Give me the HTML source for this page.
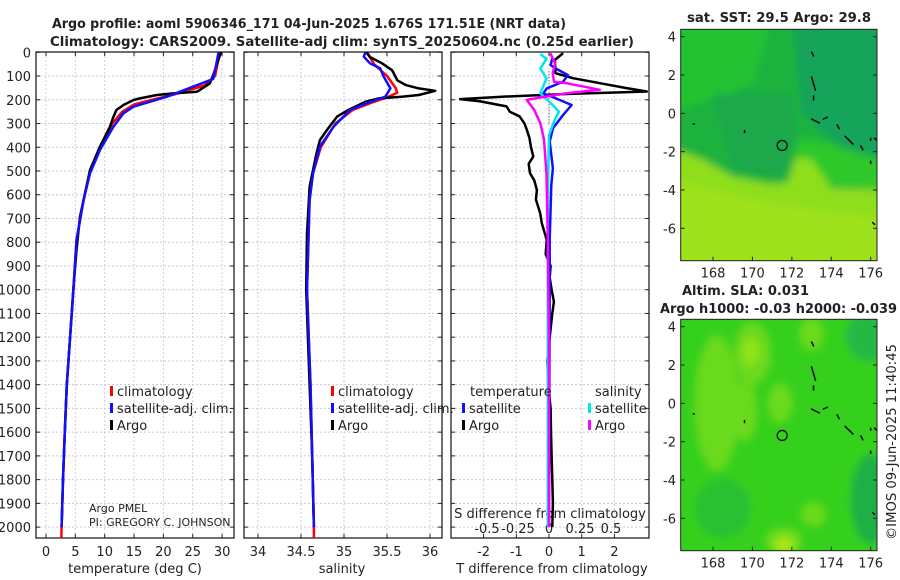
<!DOCTYPE html>
<html><head><meta charset="utf-8"><style>
html,body{margin:0;padding:0;background:#fff;width:900px;height:580px;overflow:hidden}
svg text{font-family:"DejaVu Sans","Liberation Sans",sans-serif;fill:#222}
</style></head><body>
<svg id="fig" width="900" height="580" viewBox="0 0 900 580" xmlns="http://www.w3.org/2000/svg">
<text x="52" y="28" font-size="13" font-weight="bold" textLength="514" lengthAdjust="spacingAndGlyphs">Argo profile: aoml 5906346_171 04-Jun-2025 1.676S 171.51E (NRT data)</text>
<text x="50" y="46" font-size="13" font-weight="bold" textLength="584" lengthAdjust="spacingAndGlyphs">Climatology: CARS2009. Satellite-adj clim: synTS_20250604.nc (0.25d earlier)</text>
<text x="687" y="22" font-size="13" font-weight="bold" textLength="184" lengthAdjust="spacingAndGlyphs">sat. SST: 29.5 Argo: 29.8</text>
<text x="682" y="295" font-size="13" font-weight="bold" textLength="127" lengthAdjust="spacingAndGlyphs">Altim. SLA: 0.031</text>
<text x="660" y="313" font-size="13" font-weight="bold" textLength="237" lengthAdjust="spacingAndGlyphs">Argo h1000: -0.03 h2000: -0.039</text>
<text transform="translate(896,540) rotate(-90)" font-size="13" textLength="196" lengthAdjust="spacingAndGlyphs">©IMOS 09-Jun-2025 11:40:45</text>
<g id="g"></g>
</svg>
<script>
// ---- data ----
const depthLevels = [0,100,200,300,400,500,600,700,800,900,1000,1100,1200,1300,1400,1500,1600,1700,1800,1900,2000];
const tempTicks = [0,5,10,15,20,25,30];
const salTicks = [34,34.5,35,35.5,36];
const tdiffTicks = [-2,-1,0,1,2];
const sdiffTicks = [-0.5,-0.25,0,0.25,0.5];
const sdiffTickLabels = ['-0.5','-0.25','0','0.25','0.5'];

const tArgoDepth = [0,95,131,159,166,173,180,194,201,222,243,271,313,397,496,622,692,833,1000,1200,1400,1600,1800,2000];
const tArgoVal   = [29.8,28.5,27.9,26.2,25.7,21.7,18.9,16,14.9,13.2,12,11.5,10.9,9.2,7.5,6.4,5.8,5.2,4.65,4.1,3.55,3.2,2.9,2.65];
const tClimDepth = [0,100,140,180,200,220,250,300,400,500,620,790,1000,1200,1400,1600,1800,2000,2050];
const tClimVal   = [29.6,28.8,27,21.5,18,15,13,11.3,9.2,7.5,6.4,5.2,4.66,4.1,3.55,3.2,2.9,2.65,2.6];
const tSatDepth  = [0,101,112,187,229,257,313,411,510,622,791,1000,1200,1400,1600,1800,2000];
const tSatVal    = [29.4,28.6,28.5,20.6,14.9,13.2,11.5,9.2,7.5,6.4,5.2,4.66,4.1,3.55,3.2,2.9,2.65];

const sArgoDepth = [0,20,46,76,118,138,152,162,180,187,194,208,243,271,328,370,426,496,566,763,1000,1400,1700,2000];
const sArgoVal   = [35.26,35.3,35.44,35.56,35.62,35.72,35.87,36.06,35.87,35.67,35.40,35.25,35.05,34.92,34.8,34.72,34.68,34.64,34.6,34.57,34.56,34.6,34.63,34.65];
const sClimDepth = [0,50,100,150,170,190,215,243,300,400,510,622,1000,1400,1700,2000,2050];
const sClimVal   = [35.27,35.35,35.5,35.6,35.62,35.5,35.3,35.1,34.9,34.73,34.64,34.6,34.57,34.61,34.63,34.65,34.65];
const sSatDepth  = [0,18,46,67,102,152,187,215,243,313,397,510,622,1000,1400,1700,2000];
const sSatVal    = [35.25,35.23,35.3,35.42,35.46,35.54,35.48,35.26,35.07,34.88,34.72,34.64,34.6,34.57,34.61,34.63,34.65];

const dTArgoDepth = [4,32,88,109,130,151,165,175,186,197,207,228,250,270,300,326,360,400,439,470,509,540,580,620,678,720,790,850,900,950,1000,1050,1100,1200,1300,1400,1500,1600,1700,1800,1900,2000];
const dTArgoVal   = [0.43,0.18,0.2,0.73,1.56,2.37,2.99,0.73,-1.3,-2.72,-2.1,-1.3,-1.2,-0.9,-0.75,-0.68,-0.6,-0.55,-0.48,-0.62,-0.58,-0.45,-0.37,-0.4,-0.27,-0.22,-0.07,-0.1,0.05,0.02,0.08,0.15,0.1,0.02,-0.05,-0.02,0.05,0.06,0.08,0.1,0.12,0.1];
const dTSatDepth  = [26,54,68,96,124,152,173,201,222,264,320,376,489,559,790,1000,1500,2000];
const dTSatVal    = [0.1,0.05,0.2,0.58,0.43,-0.07,-0.17,0.33,0.69,0.43,0.12,0.02,0.12,0.07,0.02,0.02,0.01,0.0];
const dSSatDepth  = [7,28,68,110,173,222,250,292,350,600,1000,1500,2000];
const dSSatVal    = [-0.07,-0.02,-0.07,-0.02,-0.07,0.03,0.08,0.04,0.0,-0.01,-0.01,-0.01,-0.01];
const dSArgoDepth = [4,46,88,124,130,158,172,200,242,298,368,509,800,1200,1600,2000];
const dSArgoVal   = [0.01,0.05,0.03,0.04,0.14,0.41,0.15,-0.18,-0.12,-0.07,-0.04,-0.02,-0.01,0.0,0.0,0.0];

const latTicks = [4,2,0,-2,-4,-6];
const lonTicks = [168,170,172,174,176];
const argoLon = 171.51, argoLat = -1.676;

// ---- scales ----
const yD = d => 52.3 + d*0.2374;
const xT = t => 46 + t*5.87;
const xS = s => 258 + (s-34)*86;
const xTd = v => 549 + v*32.7;
const xSd = v => 549 + v*124;
const TOP=52, BOT=538;
const panels = [[36,234],[244,442],[451,649]];

const NS='http://www.w3.org/2000/svg';
const G=document.getElementById('g');
function mk(tag, attrs, parent){const e=document.createElementNS(NS,tag);for(const k in attrs)e.setAttribute(k,attrs[k]);(parent||G).appendChild(e);return e;}
function txt(s,x,y,size,anchor,parent){const e=mk('text',{x:x,y:y,'font-size':size,'text-anchor':anchor||'start'},parent);e.textContent=s;return e;}

const defs=mk('defs',{});
panels.forEach((p,i)=>{const c=mk('clipPath',{id:'clip'+i},defs);mk('rect',{x:p[0],y:TOP,width:p[1]-p[0],height:BOT-TOP},c);});
const blur=mk('filter',{id:'soft',x:'-20%',y:'-20%',width:'140%',height:'140%'},defs);
mk('feGaussianBlur',{stdDeviation:4},blur);

panels.forEach((p,i)=>{
  const gg=mk('g',{});
  
  
  depthLevels.forEach(d=>{
    const l=mk('line',{x1:p[0],x2:p[1],y1:yD(d),y2:yD(d),stroke:'#c4c8e6','stroke-width':1,'stroke-dasharray':'2,2'},gg);
    
    
    mk('line',{x1:p[0],x2:p[0]+4,y1:yD(d),y2:yD(d),stroke:'#222'},gg);
    mk('line',{x1:p[1]-4,x2:p[1],y1:yD(d),y2:yD(d),stroke:'#222'},gg);
  });
  const xs = i==0?tempTicks.map(xT):i==1?salTicks.map(xS):tdiffTicks.map(xTd);
  xs.forEach(x=>{
    const l=mk('line',{x1:x,x2:x,y1:TOP,y2:BOT,stroke:'#d8cbd0','stroke-width':1,'stroke-dasharray':'2,2'},gg);
    
    
    mk('line',{x1:x,x2:x,y1:BOT-4,y2:BOT,stroke:'#222'},gg);
    mk('line',{x1:x,x2:x,y1:TOP,y2:TOP+4,stroke:'#222'},gg);
  });
  const f=mk('rect',{x:p[0],y:TOP,width:p[1]-p[0],height:BOT-TOP,fill:'none',stroke:'#222','stroke-width':1.3});
  
  
});

depthLevels.forEach(d=>{
  const t=txt(String(d),31,yD(d)+5,13,'end');
  
  
});
tempTicks.forEach(v=>{const t=txt(String(v),xT(v),556,13,'middle');
  
  });
salTicks.forEach(v=>{const t=txt(String(v),xS(v),556,13,'middle');
  
  });
tdiffTicks.forEach(v=>{const t=txt(String(v),xTd(v),556,13,'middle');
  
  });
sdiffTicks.forEach((v,i)=>{const t=txt(sdiffTickLabels[i],xSd(v),533,13,'middle');
  
  });
let a;
a=txt('temperature (deg C)',135,573,13,'middle');


a=txt('salinity',342,573,13,'middle');


a=txt('T difference from climatology',552,573,13,'middle');


a=txt('S difference from climatology',550,518,13,'middle');


a=txt('Argo PMEL',89,512,11);


a=txt('PI: GREGORY C. JOHNSON',89,526,11);



function series(depths, vals, xf, color, w, clip, name){
  const pts=depths.map((d,i)=>xf(vals[i]).toFixed(1)+','+yD(d).toFixed(1)).join(' ');
  const l=mk('polyline',{points:pts,fill:'none',stroke:color,'stroke-width':w,'stroke-linejoin':'round','clip-path':'url(#clip'+clip+')'});
  
  
}
series(tClimDepth,tClimVal,xT,'#f00',2.5,0,'temp-climatology-line');
series(tArgoDepth,tArgoVal,xT,'#000',2.5,0,'temp-argo-line');
series(tSatDepth,tSatVal,xT,'#1010ff',2.5,0,'temp-satellite-line');
series(sClimDepth,sClimVal,xS,'#f00',2.5,1,'sal-climatology-line');
series(sArgoDepth,sArgoVal,xS,'#000',2.5,1,'sal-argo-line');
series(sSatDepth,sSatVal,xS,'#1010ff',2.5,1,'sal-satellite-line');
const z=mk('line',{x1:549,x2:549,y1:yD(80),y2:yD(300),stroke:'#333','stroke-dasharray':'1,2'});


series(dTArgoDepth,dTArgoVal,xTd,'#000',2.5,2,'t-diff-argo-line');
series(dTSatDepth,dTSatVal,xTd,'#1010ff',2.5,2,'t-diff-satellite-line');
series(dSSatDepth,dSSatVal,xSd,'#00e5ee',2.5,2,'s-diff-satellite-line');
series(dSArgoDepth,dSArgoVal,xSd,'#ff00ff',2.5,2,'s-diff-argo-line');

function leg(x,y,color,label,name){
  const b=mk('rect',{x:x,y:y-10,width:3,height:10,fill:color});
  
  
  const t=txt(label,x+7,y,13);
  
  
}
leg(110,396,'#f00','climatology','legend-entry-climatology');
leg(110,413,'#1010ff','satellite-adj. clim.','legend-entry-satellite-adj');
leg(110,430,'#000','Argo','legend-entry-argo');
leg(331,396,'#f00','climatology','legend-entry-climatology-sal');
leg(331,413,'#1010ff','satellite-adj. clim.','legend-entry-satellite-adj-sal');
leg(331,430,'#000','Argo','legend-entry-argo-sal');
a=txt('temperature',470,396,13);


a=txt('salinity',595,396,13);


leg(462,413,'#1010ff','satellite','legend-entry-t-satellite');
leg(462,430,'#000','Argo','legend-entry-t-argo');
leg(588,413,'#00e5ee','satellite','legend-entry-s-satellite');
leg(588,430,'#ff00ff','Argo','legend-entry-s-argo');

// maps
const MX0=680.7, MX1=877;
const lonX = lo => 713 + (lo-168)*19.71;
function drawMap(top, bot, kind){
  const latY = la => top + 7.4 + (4-la)*19.16;
  const g=mk('g',{});
  
  
  const cid='mclip'+kind;
  const c=mk('clipPath',{id:cid},defs);
  mk('rect',{x:MX0,y:top,width:MX1-MX0,height:bot-top},c);
  const inner=mk('g',{'clip-path':'url(#'+cid+')'},g);
  const soft=mk('g',{filter:'url(#soft)'},inner);
  if(kind==='sst'){
    mk('rect',{x:MX0-10,y:top-10,width:MX1-MX0+20,height:bot-top+20,fill:'#1cb23e'},soft);
    mk('path',{d:`M${MX0-10},${top-10} L${lonX(171)},${top-10} L${lonX(170)},${latY(1.5)} L${MX0-10},${latY(0)} Z`,fill:'#24c232'},soft);
    mk('path',{d:`M${lonX(172)},${top-10} L${MX1+10},${top-10} L${MX1+10},${latY(-2.3)} L${lonX(174.5)},${latY(-1.8)} L${lonX(172.5)},${latY(0)} Z`,fill:'#14a35a'},soft);
    mk('path',{d:`M${lonX(168)},${latY(1)} L${lonX(172)},${latY(1)} L${lonX(172.3)},${latY(-1.2)} L${lonX(171.5)},${latY(-3.3)} L${lonX(169)},${latY(-3)} Z`,fill:'#1aa84c'},soft);
    mk('path',{d:`M${lonX(172.3)},${latY(-1.3)} L${lonX(174)},${latY(-1.6)} L${MX1+10},${latY(-2.6)} L${MX1+10},${latY(-4)} L${lonX(172)},${latY(-3.5)} Z`,fill:'#2fc82a'},soft);
    mk('path',{d:`M${MX0-10},${latY(-1.8)} L${lonX(167.5)},${latY(-2.4)} L${lonX(169)},${latY(-3.3)} L${lonX(171)},${latY(-3.7)} L${lonX(171.8)},${latY(-3.6)} L${lonX(172.2)},${latY(-2.3)} L${lonX(173)},${latY(-2.4)} L${lonX(174)},${latY(-3.9)} L${MX1+10},${latY(-4)} L${MX1+10},${bot+10} L${MX0-10},${bot+10} Z`,fill:'#8ede1c'},soft);
    mk('path',{d:`M${MX0-10},${latY(-3.5)} L${lonX(170)},${latY(-4.5)} L${lonX(173)},${latY(-5)} L${MX1+10},${latY(-5.5)} L${MX1+10},${bot+10} L${MX0-10},${bot+10} Z`,fill:'#9ee21a'},soft);
  } else {
    mk('rect',{x:MX0-10,y:top-10,width:MX1-MX0+20,height:bot-top+20,fill:'#36d01e'},soft);
    mk('ellipse',{cx:lonX(168.5),cy:latY(-5.5),rx:28,ry:30,fill:'#2cc032'},soft);
    mk('ellipse',{cx:lonX(176),cy:latY(-5),rx:20,ry:45,fill:'#1eb044'},soft);
    mk('ellipse',{cx:lonX(176),cy:latY(3.5),rx:25,ry:25,fill:'#28b844'},soft);
    const blobs=[[168.2,0,1.1,3.5],[170.0,2.6,0.9,1.6],[171.4,0,0.6,1.0],[173,3.6,0.6,0.8],[173.1,-5.8,0.6,0.6],[171.6,-7.2,0.9,0.7],[169.6,-0.4,0.6,1.6]];
    blobs.forEach(b=>{mk('ellipse',{cx:lonX(b[0]),cy:latY(b[1]),rx:b[2]*19.7,ry:b[3]*19.2,fill:'#6ada1c'},soft);});
    mk('ellipse',{cx:lonX(169.9),cy:latY(2.7),rx:8,ry:14,fill:'#92e418'},soft);
    mk('ellipse',{cx:lonX(171.6),cy:latY(-7.4),rx:10,ry:8,fill:'#a6e818'},soft);
  }
  const isl=[[173,3.2,173.1,3.0],[173.0,1.9,173.2,1.2],[173.1,0.9,173.1,0.7],[173.0,-0.3,173.4,-0.5],[174.3,-0.6,174.4,-0.8],[174.7,-1.2,175.1,-1.6],[175.5,-1.7,175.6,-1.9],[167.0,-0.55,167.05,-0.55],[176,-1.3,176,-1.4],[176.2,-1.3,176.3,-1.4],[176,-2.5,176,-2.6],[176.1,-5.7,176.2,-5.8],[169.6,-0.9,169.6,-1.0],[173.6,-0.3,173.8,-0.2]];
  isl.forEach(s=>{mk('line',{x1:lonX(s[0]),y1:latY(s[1]),x2:lonX(s[2]),y2:latY(s[3]),stroke:'#111','stroke-width':1.6,'stroke-linecap':'round'},inner);});
  const ci=mk('circle',{cx:lonX(argoLon),cy:latY(argoLat),r:5,fill:'none',stroke:'#111','stroke-width':1.3},g);
  
  
  mk('rect',{x:MX0,y:top,width:MX1-MX0,height:bot-top,fill:'none',stroke:'#222','stroke-width':1},g);
  latTicks.forEach(la=>{
    mk('line',{x1:MX0,x2:MX0+4,y1:latY(la),y2:latY(la),stroke:'#222'},g);
    mk('line',{x1:MX1-4,x2:MX1,y1:latY(la),y2:latY(la),stroke:'#222'},g);
    const t=txt(String(la),676,latY(la)+5,13,'end',g);
    
    
  });
  lonTicks.forEach(lo=>{
    mk('line',{x1:lonX(lo),x2:lonX(lo),y1:bot-4,y2:bot,stroke:'#222'},g);
    const t=txt(String(lo),lonX(lo),bot+17,13,'middle',g);
    
    
  });
}
drawMap(29.3,260.7,'sst');
drawMap(319.3,550.7,'sla');
</script>
</body></html>
